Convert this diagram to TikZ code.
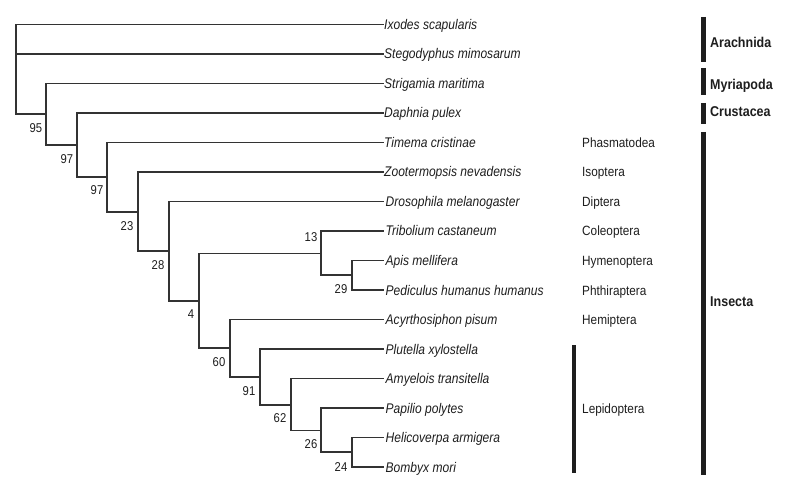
\documentclass[tikz,border=0pt]{standalone}
\usepackage{fontspec}
\setmainfont{Liberation Sans}[FakeStretch=0.88]
\newfontfamily\leaffont{Liberation Sans}[FakeStretch=0.86]
\definecolor{treegray}{HTML}{333333}
\definecolor{inkgray}{HTML}{1E1E1E}
\begin{document}
\begin{tikzpicture}[x=1pt,y=-1pt,
  branch/.style={draw=treegray, line width=1.6pt, line cap=rect},
  leaf/.style={anchor=west, inner sep=1pt, text=inkgray,
    font=\leaffont\fontsize{14}{15}\selectfont\itshape, text height=10pt, text depth=0pt},
  order/.style={anchor=west, inner sep=0pt, text=inkgray,
    font=\fontsize{13.4}{14}\selectfont, text height=10pt, text depth=0pt},
  support/.style={inner sep=0pt, text=inkgray,
    font=\fontsize{12.8}{13}\selectfont, text height=9pt, text depth=0pt},
  clade/.style={anchor=west, inner sep=0pt, text=inkgray,
    font=\fontsize{14.2}{15}\selectfont\bfseries, text height=10pt, text depth=0pt},
  cladebar/.style={draw=inkgray, line width=5pt},
  orderbar/.style={draw=inkgray, line width=3.2pt}]
\useasboundingbox[fill=white] (0,0) rectangle (786,494);

% leaves
\node[leaf] (L1)  at (383,24.5)  {Ixodes scapularis};
\node[leaf] (L2)  at (383,54)    {Stegodyphus mimosarum};
\node[leaf] (L3)  at (383,83.5)  {Strigamia maritima};
\node[leaf] (L4)  at (383,113)   {Daphnia pulex};
\node[leaf] (L5)  at (383,142.5) {Timema cristinae};
\node[leaf] (L6)  at (383,172)   {Zootermopsis nevadensis};
\node[leaf] (L7)  at (384.5,201.5) {Drosophila melanogaster};
\node[leaf] (L8)  at (384.5,231)   {Tribolium castaneum};
\node[leaf] (L9)  at (384.5,260.5) {Apis mellifera};
\node[leaf] (L10) at (384.5,290)   {Pediculus humanus humanus};
\node[leaf] (L11) at (384.5,319.5) {Acyrthosiphon pisum};
\node[leaf] (L12) at (384.5,349)   {Plutella xylostella};
\node[leaf] (L13) at (384.5,378.5) {Amyelois transitella};
\node[leaf] (L14) at (384.5,408)   {Papilio polytes};
\node[leaf] (L15) at (384.5,437.5) {Helicoverpa armigera};
\node[leaf] (L16) at (384.5,467)   {Bombyx mori};

% internal nodes
\coordinate (r)    at (16,69);
\coordinate (n95)  at (46,114.25);
\coordinate (n97a) at (77,145);
\coordinate (n97b) at (107,177);
\coordinate (n23)  at (138,212);
\coordinate (n28)  at (169,251);
\coordinate (n4)   at (199,301);
\coordinate (n13)  at (321,253.5);
\coordinate (n29)  at (352,275.25);
\coordinate (n60)  at (230,348);
\coordinate (n91)  at (260,377);
\coordinate (n62)  at (291,405);
\coordinate (n26)  at (321,430.5);
\coordinate (n24)  at (352,452.25);

% branches
\draw[branch] (r) |- (L1.west);
\draw[branch] (r) |- (L2.west);
\draw[branch] (r) |- (n95);
\draw[branch] (n95) |- (L3.west);
\draw[branch] (n95) |- (n97a);
\draw[branch] (n97a) |- (L4.west);
\draw[branch] (n97a) |- (n97b);
\draw[branch] (n97b) |- (L5.west);
\draw[branch] (n97b) |- (n23);
\draw[branch] (n23) |- (L6.west);
\draw[branch] (n23) |- (n28);
\draw[branch] (n28) |- ([xshift=-1.5pt]L7.west);
\draw[branch] (n28) |- (n4);
\draw[branch] (n4) |- (n13);
\draw[branch] (n4) |- (n60);
\draw[branch] (n13) |- ([xshift=-1.5pt]L8.west);
\draw[branch] (n13) |- (n29);
\draw[branch] (n29) |- ([xshift=-1.5pt]L9.west);
\draw[branch] (n29) |- ([xshift=-1.5pt]L10.west);
\draw[branch] (n60) |- ([xshift=-1.5pt]L11.west);
\draw[branch] (n60) |- (n91);
\draw[branch] (n91) |- ([xshift=-1.5pt]L12.west);
\draw[branch] (n91) |- (n62);
\draw[branch] (n62) |- ([xshift=-1.5pt]L13.west);
\draw[branch] (n62) |- (n26);
\draw[branch] (n26) |- ([xshift=-1.5pt]L14.west);
\draw[branch] (n26) |- (n24);
\draw[branch] (n24) |- ([xshift=-1.5pt]L15.west);
\draw[branch] (n24) |- ([xshift=-1.5pt]L16.west);

% support values
\node[support] (s95)  at (36,128.5) {95};
\node[support] (s97a) at (67,159)   {97};
\node[support] (s97b) at (97,190)   {97};
\node[support] (s23)  at (127,226)  {23};
\node[support] (s28)  at (158,265)  {28};
\node[support] (s4)   at (191,314)  {4};
\node[support] (s60)  at (219,362)  {60};
\node[support] (s91)  at (249,391)  {91};
\node[support] (s62)  at (280,418)  {62};
\node[support] (s26)  at (311,444)  {26};
\node[support] (s24)  at (341,467)  {24};
\node[support] (s13)  at (311,237)  {13};
\node[support] (s29)  at (341,289)  {29};

% orders
\node[order] (o1) at (582,142.5) {Phasmatodea};
\node[order] (o2) at (582,172)   {Isoptera};
\node[order] (o3) at (582,201.5) {Diptera};
\node[order] (o4) at (582,231)   {Coleoptera};
\node[order] (o5) at (582,260.5) {Hymenoptera};
\node[order] (o6) at (582,290)   {Phthiraptera};
\node[order] (o7) at (582,319.5) {Hemiptera};
\node[order] (o8) at (582,408)   {Lepidoptera};
\draw[orderbar] (574,345) -- (574,473);

% classes
\draw[cladebar] (703,17) -- (703,62);
\node[clade] (c1) at (710,43) {Arachnida};
\draw[cladebar] (703,68) -- (703,95);
\node[clade] (c2) at (710,84.5) {Myriapoda};
\draw[cladebar] (703,103) -- (703,124);
\node[clade] (c3) at (710,112) {Crustacea};
\draw[cladebar] (703,132) -- (703,475);
\node[clade] (c4) at (710,301) {Insecta};
\end{tikzpicture}
\end{document}
